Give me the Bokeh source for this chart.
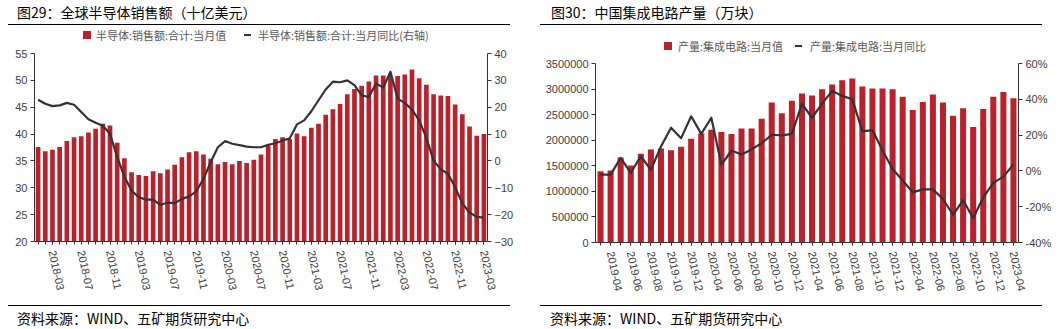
from bokeh.plotting import figure
from bokeh.models import (Range1d, LinearAxis, FixedTicker, Div,
                          PrintfTickFormatter, NumeralTickFormatter)
from bokeh.layouts import row, column
from bokeh.embed import file_html
from bokeh.resources import INLINE

# ---------------- data ----------------
semi_months = [f"{y}-{m:02d}" for y in range(2018, 2024) for m in range(1, 13)][:63]
semi_sales = [37.6, 36.8, 37.1, 37.6, 38.7, 39.4, 39.6, 40.3, 41.0, 41.9,
              41.6, 38.4, 35.5, 32.9, 32.4, 32.2, 33.1, 32.7, 33.4, 34.3,
              35.7, 36.6, 36.8, 36.2, 35.4, 34.4, 34.8, 34.4, 35.0, 34.6,
              35.2, 36.2, 37.8, 39.1, 39.4, 39.1, 40.1, 39.6, 41.2, 41.9,
              43.6, 44.6, 45.6, 47.4, 48.4, 49.0, 49.8, 50.9, 50.9, 50.8,
              50.8, 51.1, 52.0, 50.4, 49.2, 47.4, 47.2, 47.1, 45.5, 43.7,
              41.4, 39.7, 40.0]
semi_yoy = [22.8, 21.3, 20.4, 20.7, 21.6, 20.9, 18.2, 15.5, 14.2, 13.1, 10.1,
            1.4, -5.8, -11.1, -13.5, -14.4, -14.4, -16.4, -15.5, -15.7, -14.2,
            -13.2, -11.3, -6.7, -0.5, 5.1, 7.4, 6.4, 5.9, 5.3, 5.1, 5.1,
            6.0, 6.6, 7.6, 8.4, 13.6, 15.1, 18.5, 22.6, 26.6, 29.5,
            29.3, 30.0, 28.2, 24.4, 23.8, 28.8, 27.3, 33.2, 23.2, 21.6, 19.1,
            15.1, 8.6, 0.1, -3.1, -4.8, -9.8, -15.8, -19.2, -20.8, -21.1]
semi_tick_idx = list(range(2, 63, 4))

ic_months = [f"{y}-{m:02d}" for y in (2019, 2020, 2021, 2022) for m in range(3, 13)] + ["2023-03", "2023-04"]
ic_output = [1393000, 1406000, 1662000, 1505000, 1734000, 1819000, 1838000, 1806000, 1871000, 2028000,
             2133000, 2205000, 2159000, 2120000, 2231000, 2231000, 2421000, 2735000, 2525000, 2774000,
             2911000, 2872000, 2996000, 3088000, 3173000, 3206000, 3049000, 3009000, 3009000, 2996000,
             2852000, 2591000, 2748000, 2892000, 2735000, 2479000, 2623000, 2257000, 2610000, 2852000,
             2944000, 2820000]
ic_yoy = [-2.1, -2.1, 7.3, -1.1, 8.2, 0.6, 13.6, 24.1, 18.3, 30.5,
          20.7, 29.7, 3.4, 11.4, 9.2, 12.0, 15.5, 20.2, 19.8, 20.7,
          37.5, 29.7, 37.6, 44.7, 41.9, 40.0, 22.1, 22.8, 11.4, 1.1,
          -5.4, -12.0, -10.3, -10.3, -15.7, -24.5, -16.3, -26.5, -14.8, -6.7,
          -3.2, 3.6]
ic_tick_idx = list(range(1, 42, 2))

semi_title = "图29：全球半导体销售额（十亿美元）"
ic_title = "图30：中国集成电路产量（万块）"
semi_legend = ["半导体:销售额:合计:当月值", "半导体:销售额:合计:当月同比(右轴)"]
ic_legend = ["产量:集成电路:当月值", "产量:集成电路:当月同比"]
source_text = "资料来源：WIND、五矿期货研究中心"

BAR = "#BA222B"
LINE = "#333333"
AX = "#333333"
TXT = "#404040"
CJK = "Noto Sans CJK SC"
LAT = "Liberation Sans"


def style_axis(ax):
    ax.axis_line_color = AX
    ax.major_tick_line_color = AX
    ax.major_tick_out = 4
    ax.major_tick_in = 0
    ax.minor_tick_line_color = None
    ax.major_label_text_font = LAT
    ax.major_label_text_font_size = "11px"
    ax.major_label_text_color = TXT
    ax.major_label_standoff = 3


def make_fig(months, tick_idx, bars, yoy, y_rng, yoy_rng, y_step, yoy_step,
             borders, frame, bar_w, left_fmt, right_fmt):
    n = len(months)
    idx = list(range(n))
    bl, br, bt, bb = borders
    fw, fh = frame
    p = figure(frame_width=fw, frame_height=fh, x_range=Range1d(-0.5, n - 0.5),
               y_range=Range1d(*y_rng), output_backend="svg", toolbar_location=None,
               min_border_left=bl, min_border_right=br, min_border_top=bt,
               min_border_bottom=bb, background_fill_color="white",
               border_fill_color="white", title=None)
    p.outline_line_color = None
    p.xgrid.visible = False
    p.ygrid.visible = False
    p.extra_y_ranges = {"yoy": Range1d(*yoy_rng)}
    p.vbar(x=idx, top=bars, bottom=y_rng[0], width=bar_w,
           fill_color=BAR, line_color=None)
    p.line(x=idx, y=yoy, y_range_name="yoy", line_color=LINE,
           line_width=2.2, line_join="round")

    ly = p.yaxis[0]
    ly.ticker = FixedTicker(ticks=list(range(int(y_rng[0]), int(y_rng[1]) + 1, y_step)))
    if left_fmt is not None:
        ly.formatter = left_fmt
    style_axis(ly)

    ry = LinearAxis(y_range_name="yoy",
                    ticker=FixedTicker(ticks=list(range(yoy_rng[0], yoy_rng[1] + 1, yoy_step))))
    if right_fmt is not None:
        ry.formatter = right_fmt
    style_axis(ry)
    p.add_layout(ry, "right")

    xa = p.xaxis[0]
    xa.ticker = FixedTicker(ticks=tick_idx, minor_ticks=idx)
    xa.major_label_overrides = {i: months[i] for i in tick_idx}
    style_axis(xa)
    xa.major_tick_out = 3
    xa.minor_tick_line_color = AX
    xa.minor_tick_out = 3
    xa.minor_tick_in = 0
    xa.major_label_orientation = -1.36
    xa.major_label_standoff = 6
    return p


def title_div(text, ml, w, pl):
    html = (f'<div style="margin-left:{ml}px;width:{w}px;height:25px;box-sizing:border-box;'
            f'border-bottom:1.5px solid #000;padding-left:{pl}px;padding-top:2px;'
            f'font-family:\'{CJK}\';font-size:14px;line-height:20px;color:#000;white-space:nowrap">{text}</div>')
    return Div(text=html, width=530, height=25, margin=0)


def legend_div(labels, h, top, x_sq, x_t1, x_ln, x_t2):
    lh = 18
    html = (f'<div style="position:relative;width:530px;height:{h}px;font-family:\'{CJK}\';'
            f'font-size:11px;color:#595959;line-height:{lh}px;white-space:nowrap">'
            f'<span style="position:absolute;left:{x_sq}px;top:{top + 5}px;width:8px;height:8px;background:{BAR}"></span>'
            f'<span style="position:absolute;left:{x_t1}px;top:{top}px">{labels[0]}</span>'
            f'<span style="position:absolute;left:{x_ln}px;top:{top + 8}px;width:7px;height:2px;background:{LINE}"></span>'
            f'<span style="position:absolute;left:{x_t2}px;top:{top}px">{labels[1]}</span>'
            f'</div>')
    return Div(text=html, width=530, height=h, margin=0)


def source_div(text, ml, w, pl):
    html = (f'<div style="margin-left:{ml}px;width:{w}px;height:24px;box-sizing:border-box;'
            f'border-top:1.5px solid #000;padding-left:{pl}px;padding-top:2px;'
            f'font-family:\'{CJK}\';font-size:14px;line-height:20px;color:#000;white-space:nowrap">{text}</div>')
    return Div(text=html, width=530, height=24, margin=0)


p1 = make_fig(semi_months, semi_tick_idx, semi_sales, semi_yoy, (20, 55), (-30, 40), 5, 10,
              (34, 43, 8, 64), (453, 188), 0.65, None, None)
p2 = make_fig(ic_months, ic_tick_idx, ic_output, ic_yoy, (0, 3500000), (-40, 60), 500000, 20,
              (65, 42, 8, 63), (423, 179), 0.6, NumeralTickFormatter(format="0"),
              PrintfTickFormatter(format="%d%%"))

left = column(title_div(semi_title, 8, 502, 9),
              legend_div(semi_legend, 20, 1, 83, 96, 244, 258),
              p1,
              source_div(source_text, 8, 502, 9), spacing=0)
right = column(title_div(ic_title, 10, 502, 11),
               legend_div(ic_legend, 30, 12, 134, 148, 265, 280),
               p2,
               source_div(source_text, 10, 502, 10), spacing=0)
layout = row(left, right, spacing=0)

open("out.html", "w").write(file_html(layout, INLINE))
